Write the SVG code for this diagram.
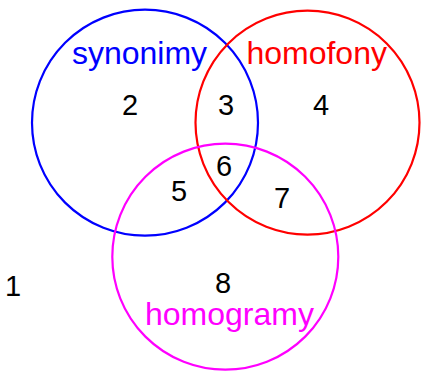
<svg xmlns="http://www.w3.org/2000/svg" width="421" height="372" viewBox="0 0 421 372">
<style>
.c{fill:none;stroke-width:2.2}
text{font-family:"Liberation Sans",Arial,sans-serif;text-anchor:middle}
.n{font-size:29px;fill:#000}
.l{font-size:32px}
</style>
<rect width="421" height="372" fill="#fff"/>
<g id="synonimy"><circle class="c" cx="145" cy="122.7" r="113" stroke="#0000ff"/><text class="l" x="139.5" y="63.5" fill="#0000ff">synonimy</text></g>
<g id="homofony"><circle class="c" cx="307.5" cy="122.6" r="112" stroke="#ff0000"/><text class="l" x="316.7" y="63.5" fill="#ff0000">homofony</text></g>
<g id="homogramy"><circle class="c" cx="225.3" cy="256.7" r="113" stroke="#ff00ff"/><text class="l" x="229.4" y="325" fill="#ff00ff">homogramy</text></g>
<g id="regions">
<text class="n" x="13" y="296">1</text>
<text class="n" x="130" y="115">2</text>
<text class="n" x="226" y="115">3</text>
<text class="n" x="321" y="115">4</text>
<text class="n" x="179" y="201">5</text>
<text class="n" x="224" y="176">6</text>
<text class="n" x="282" y="208">7</text>
<text class="n" x="223" y="292.7">8</text>
</g>
</svg>
